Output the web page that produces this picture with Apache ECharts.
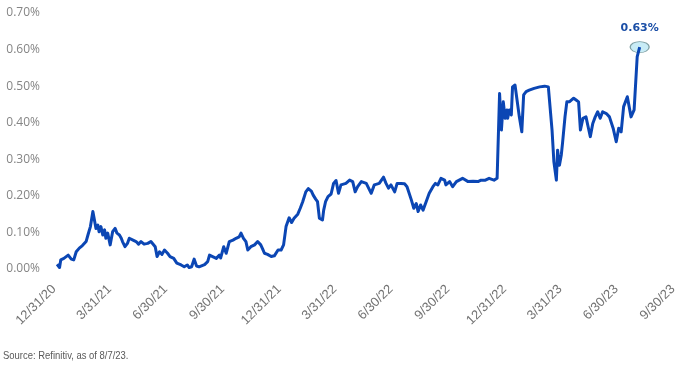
<!DOCTYPE html>
<html>
<head>
<meta charset="utf-8">
<script src="https://cdn.jsdelivr.net/npm/echarts@6/dist/echarts.min.js"></script>
<style>
html,body{margin:0;padding:0;background:#fff;}
#chart{width:683px;height:368px;}
</style>
</head>
<body>
<div id="chart"></div>
<script>
const quarterTicks = ['2020-12-31','2021-03-31','2021-06-30','2021-09-30','2021-12-31','2022-03-31','2022-06-30','2022-09-30','2022-12-31','2023-03-31','2023-06-30','2023-09-30'];
const quarterLabels = ['12/31/20','3/31/21','6/30/21','9/30/21','12/31/21','3/31/22','6/30/22','9/30/22','12/31/22','3/31/23','6/30/23','9/30/23'];
const yTicks = [0, 0.1, 0.2, 0.3, 0.4, 0.5, 0.6, 0.7];

const spreadDates = [
'2021-01-05','2021-01-09','2021-01-11','2021-01-16','2021-01-19','2021-01-23','2021-01-28','2021-02-01','2021-02-05','2021-02-10',
'2021-02-15','2021-02-21','2021-02-24','2021-02-28','2021-03-04','2021-03-06','2021-03-09','2021-03-12','2021-03-14','2021-03-17',
'2021-03-20','2021-03-23','2021-03-25','2021-03-28','2021-04-01','2021-04-05','2021-04-09','2021-04-12','2021-04-16','2021-04-19',
'2021-04-21','2021-04-25','2021-04-29','2021-05-02','2021-05-08','2021-05-13','2021-05-17','2021-05-21','2021-05-26','2021-06-01',
'2021-06-06','2021-06-09','2021-06-13','2021-06-16','2021-06-20','2021-06-24','2021-06-28','2021-07-03','2021-07-07','2021-07-13',
'2021-07-18','2021-07-25','2021-07-30','2021-08-04','2021-08-07','2021-08-11','2021-08-15','2021-08-19','2021-08-23','2021-08-26',
'2021-09-01','2021-09-06','2021-09-09','2021-09-14','2021-09-20','2021-09-25','2021-09-27','2021-10-02','2021-10-06','2021-10-11',
'2021-10-17','2021-10-22','2021-10-27','2021-10-30','2021-11-03','2021-11-07','2021-11-10','2021-11-15','2021-11-21','2021-11-26',
'2021-12-01','2021-12-04','2021-12-07','2021-12-12','2021-12-18','2021-12-23','2021-12-29','2022-01-03','2022-01-07','2022-01-11',
'2022-01-16','2022-01-20','2022-01-24','2022-01-30','2022-02-03','2022-02-07','2022-02-12','2022-02-16','2022-02-21','2022-02-24',
'2022-02-28','2022-03-03','2022-03-06','2022-03-08','2022-03-11','2022-03-13','2022-03-16','2022-03-20','2022-03-25','2022-03-29',
'2022-04-02','2022-04-06','2022-04-10','2022-04-13','2022-04-18','2022-04-24','2022-04-29','2022-05-03','2022-05-07','2022-05-13',
'2022-05-21','2022-05-29','2022-06-03','2022-06-11','2022-06-18','2022-06-22','2022-06-26','2022-06-30','2022-07-06','2022-07-10',
'2022-07-16','2022-07-22','2022-07-26','2022-08-02','2022-08-06','2022-08-10','2022-08-13','2022-08-17','2022-08-21','2022-08-26',
'2022-08-31','2022-09-06','2022-09-10','2022-09-14','2022-09-19','2022-09-25','2022-09-27','2022-10-03','2022-10-08','2022-10-14',
'2022-10-24','2022-11-02','2022-11-10','2022-11-18','2022-11-23','2022-11-30','2022-12-06','2022-12-14','2022-12-19','2022-12-22',
'2022-12-23','2022-12-26','2022-12-29','2023-01-01','2023-01-04','2023-01-05','2023-01-08','2023-01-11','2023-01-13','2023-01-17',
'2023-01-20','2023-01-24','2023-01-28','2023-01-31','2023-02-04','2023-02-09','2023-02-17','2023-02-26','2023-03-06','2023-03-12',
'2023-03-15','2023-03-18','2023-03-21','2023-03-25','2023-03-27','2023-03-30','2023-04-02','2023-04-04','2023-04-08','2023-04-11',
'2023-04-15','2023-04-18','2023-04-22','2023-04-26','2023-04-30','2023-05-03','2023-05-07','2023-05-12','2023-05-16','2023-05-19',
'2023-05-23','2023-05-27','2023-05-31','2023-06-04','2023-06-08','2023-06-14','2023-06-19','2023-06-25','2023-06-30','2023-07-04',
'2023-07-08','2023-07-12','2023-07-18','2023-07-21','2023-07-24','2023-07-29','2023-07-31','2023-08-03','2023-08-07'
];
const spreadValues = [
0.013,0.004,0.025,0.029,0.025,0.038,0.027,0.025,0.047,0.057,
0.064,0.075,0.093,0.116,0.157,0.139,0.111,0.120,0.102,0.116,
0.093,0.107,0.084,0.098,0.066,0.102,0.111,0.098,0.093,0.084,
0.075,0.061,0.070,0.084,0.079,0.075,0.068,0.075,0.068,0.070,
0.075,0.079,0.061,0.034,0.047,0.040,0.052,0.043,0.034,0.029,
0.016,0.011,0.006,0.011,0.004,0.006,0.027,0.008,0.006,0.005,
0.012,0.020,0.038,0.034,0.029,0.038,0.030,0.061,0.043,0.075,
0.079,0.084,0.088,0.098,0.084,0.075,0.052,0.061,0.066,0.075,
0.066,0.055,0.043,0.040,0.034,0.036,0.052,0.052,0.066,0.116,
0.140,0.127,0.139,0.150,0.166,0.184,0.211,0.220,0.213,0.202,
0.191,0.184,0.139,0.134,0.134,0.161,0.184,0.198,0.205,0.234,
0.242,0.207,0.230,0.225,0.234,0.243,0.239,0.211,0.225,0.239,
0.234,0.207,0.230,0.234,0.251,0.234,0.221,0.230,0.211,0.234,
0.234,0.233,0.225,0.189,0.166,0.179,0.157,0.175,0.161,0.184,
0.207,0.225,0.234,0.230,0.248,0.243,0.230,0.239,0.225,0.239,
0.248,0.239,0.240,0.239,0.243,0.243,0.248,0.243,0.248,0.252,
0.480,0.380,0.457,0.412,0.435,0.412,0.435,0.421,0.498,0.503,
0.498,0.416,0.375,0.476,0.485,0.489,0.494,0.498,0.500,0.498,
0.494,0.380,0.293,0.243,0.325,0.284,0.312,0.344,0.416,0.457,
0.457,0.462,0.467,0.462,0.457,0.380,0.412,0.416,0.385,0.362,
0.398,0.416,0.430,0.412,0.430,0.425,0.416,0.385,0.348,0.385,
0.375,0.444,0.471,0.476,0.416,0.435,0.430,0.581,0.607
];
const annotationDate = '2023-08-07';
const annotationValue = 0.607;
const annotationText = '0.63%';

// daily category axis from first to last quarter tick
function pad(n){return (n<10?'0':'')+n;}
const categories = [];
(function(){
  const start = new Date(Date.UTC(2020,11,31));
  const end = new Date(Date.UTC(2023,8,30));
  for (let d = start; d <= end; d = new Date(d.getTime()+86400000)) {
    categories.push(d.getUTCFullYear()+'-'+pad(d.getUTCMonth()+1)+'-'+pad(d.getUTCDate()));
  }
})();

const seriesData = spreadDates.map((d,i)=>[d, spreadValues[i]]);

const chart = echarts.init(document.getElementById('chart'), null, {renderer:'canvas'});
chart.setOption({
  animation:false,
  backgroundColor:'#ffffff',
  grid:{left:54, right:10, top:13, bottom:99, containLabel:false},
  xAxis:{
    type:'category',
    data:categories,
    boundaryGap:false,
    axisLine:{show:false},
    axisTick:{show:false},
    splitLine:{show:false},
    axisLabel:{
      interval:function(idx, val){ return quarterTicks.indexOf(val) >= 0; },
      formatter:function(val){ const k = quarterTicks.indexOf(val); return k>=0 ? quarterLabels[k] : ''; },
      rotate:45,
      margin:18,
      color:'#737373',
      fontSize:13,
      fontFamily:'"Liberation Sans Narrow","Liberation Sans",sans-serif'
    }
  },
  yAxis:{
    type:'value',
    min:yTicks[0],
    max:yTicks[yTicks.length-1],
    interval:0.1,
    axisLine:{show:false},
    axisTick:{show:false},
    splitLine:{show:false},
    axisLabel:{
      formatter:function(v){ return v.toFixed(2)+'%'; },
      color:'#858585',
      fontSize:12,
      fontFamily:'"Open Sans",sans-serif',
      margin:14
    }
  },
  series:[{
    type:'line',
    data:seriesData,
    showSymbol:false,
    symbol:'none',
    z:3,
    lineStyle:{color:'#0b46b4', width:3, join:'round'},
    markPoint:{
      z:1,
      symbol:'circle',
      symbolSize:[19,11],
      itemStyle:{color:'#c8ecf6', borderColor:'#7f9fa3', borderWidth:1},
      label:{
        show:true,
        formatter:annotationText,
        position:'inside',
        offset:[0,-19],
        color:'#1a4ea6',
        fontWeight:'bold',
        fontSize:11,
        fontFamily:'"DejaVu Sans",sans-serif'
      },
      data:[{coord:[annotationDate, annotationValue]}]
    }
  }],
  graphic:[{
    type:'text',
    left:3,
    top:350,
    scaleX:0.86,
    style:{
      text:'Source: Refinitiv, as of 8/7/23.',
      fill:'#595959',
      fontSize:11,
      fontFamily:'"Liberation Sans",sans-serif'
    }
  }]
});
</script>
</body>
</html>
